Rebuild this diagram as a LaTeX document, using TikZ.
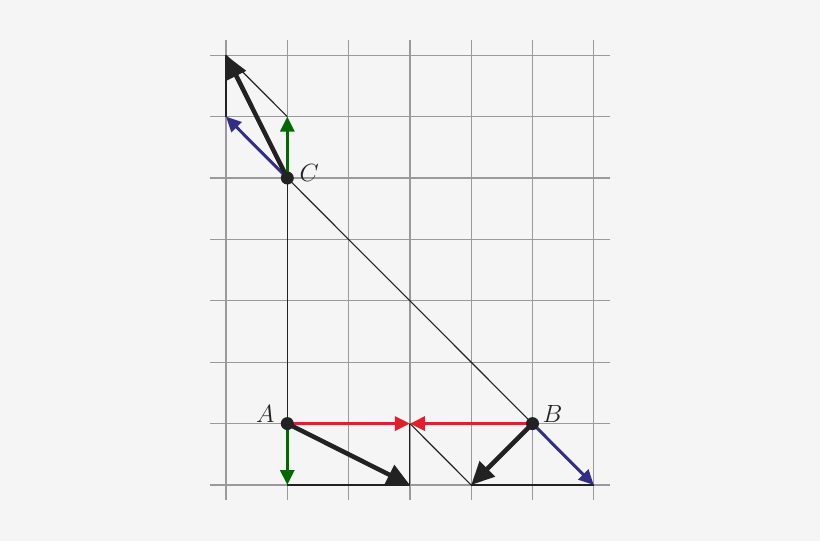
\documentclass[tikz,border=0pt]{standalone}
\usetikzlibrary{arrows.meta}
\definecolor{bg}{HTML}{F5F5F5}
\definecolor{gridc}{HTML}{9A9A9A}
\definecolor{redv}{HTML}{E0202A}
\definecolor{greenv}{HTML}{006A00}
\definecolor{bluev}{HTML}{332E85}
\definecolor{blackv}{HTML}{222222}
\tikzset{
  gridline/.style={gridc, line width=1.2pt},
  thinline/.style={blackv, line width=1.1pt},
  res/.style={blackv, line width=4.5pt, -{Triangle[length=23pt,width=21pt]}},
  redvec/.style={redv, line width=3pt, -{Triangle[length=15pt,width=14pt]}},
  greenvec/.style={greenv, line width=3pt, -{Triangle[length=15pt,width=14pt]}},
  bluevec/.style={bluev, line width=3pt, -{Triangle[length=15pt,width=14pt]}},
  dot/.style={circle, fill=blackv, inner sep=0pt, minimum size=13pt},
  lab/.style={font=\fontsize{25}{25}\selectfont, text=blackv, inner sep=0pt}
}
\begin{document}
\begin{tikzpicture}[x=1pt,y=-1pt]
\fill[bg] (0,0) rectangle (820,541);
\useasboundingbox (0,0) rectangle (820,541);
\begin{scope}[shift={(226pt,-485pt)}, x=61.3pt, y=61.4pt]
  % grid
  \foreach \i in {0,...,6} \draw[gridline] (\i,-0.245) -- (\i,7.25);
  \foreach \j in {0,...,7} \draw[gridline] (-0.26,\j) -- (6.26,\j);
  % points
  \coordinate (A) at (1,1);
  \coordinate (B) at (5,1);
  \coordinate (C) at (1,5);
  \coordinate (M) at (3,1);
  \coordinate (A0) at (1,0);
  \coordinate (A3) at (3,0);
  \coordinate (B4) at (4,0);
  \coordinate (B6) at (6,0);
  \coordinate (C6) at (1,6);
  \coordinate (L6) at (0,6);
  \coordinate (L7) at (0,7);
  % thin lines
  \draw[thinline] (A) -- (C);
  \draw[thinline] (C) -- (B);
  \draw[thinline] (C6) -- (L7);
  \draw[thinline] (L6) -- (L7);
  \draw[thinline] (A0) -- (A3);
  \draw[thinline] (M) -- (A3);
  \draw[thinline] (M) -- (B4);
  \draw[thinline] (B4) -- (B6);
  % vectors at A
  \draw[redvec] (A) -- (M);
  \draw[greenvec] (A) -- (A0);
  \draw[res] (A) -- (A3);
  % vectors at B
  \draw[redvec] (B) -- (M);
  \draw[bluevec] (B) -- (B6);
  \draw[res] (B) -- (B4);
  % vectors at C
  \draw[greenvec] (C) -- (C6);
  \draw[bluevec] (C) -- (L6);
  \draw[res] (C) -- (L7);
  % dots
  \node[dot] (dA) at (A) {};
  \node[dot] (dB) at (B) {};
  \node[dot] (dC) at (C) {};
  % labels
  \node[lab] (lA) at ([xshift=-22pt,yshift=10pt]A) {$A$};
  \node[lab] (lB) at ([xshift=20pt,yshift=10pt]B) {$B$};
  \node[lab] (lC) at ([xshift=22pt,yshift=5pt]C) {$C$};
\end{scope}
\end{tikzpicture}
\end{document}
